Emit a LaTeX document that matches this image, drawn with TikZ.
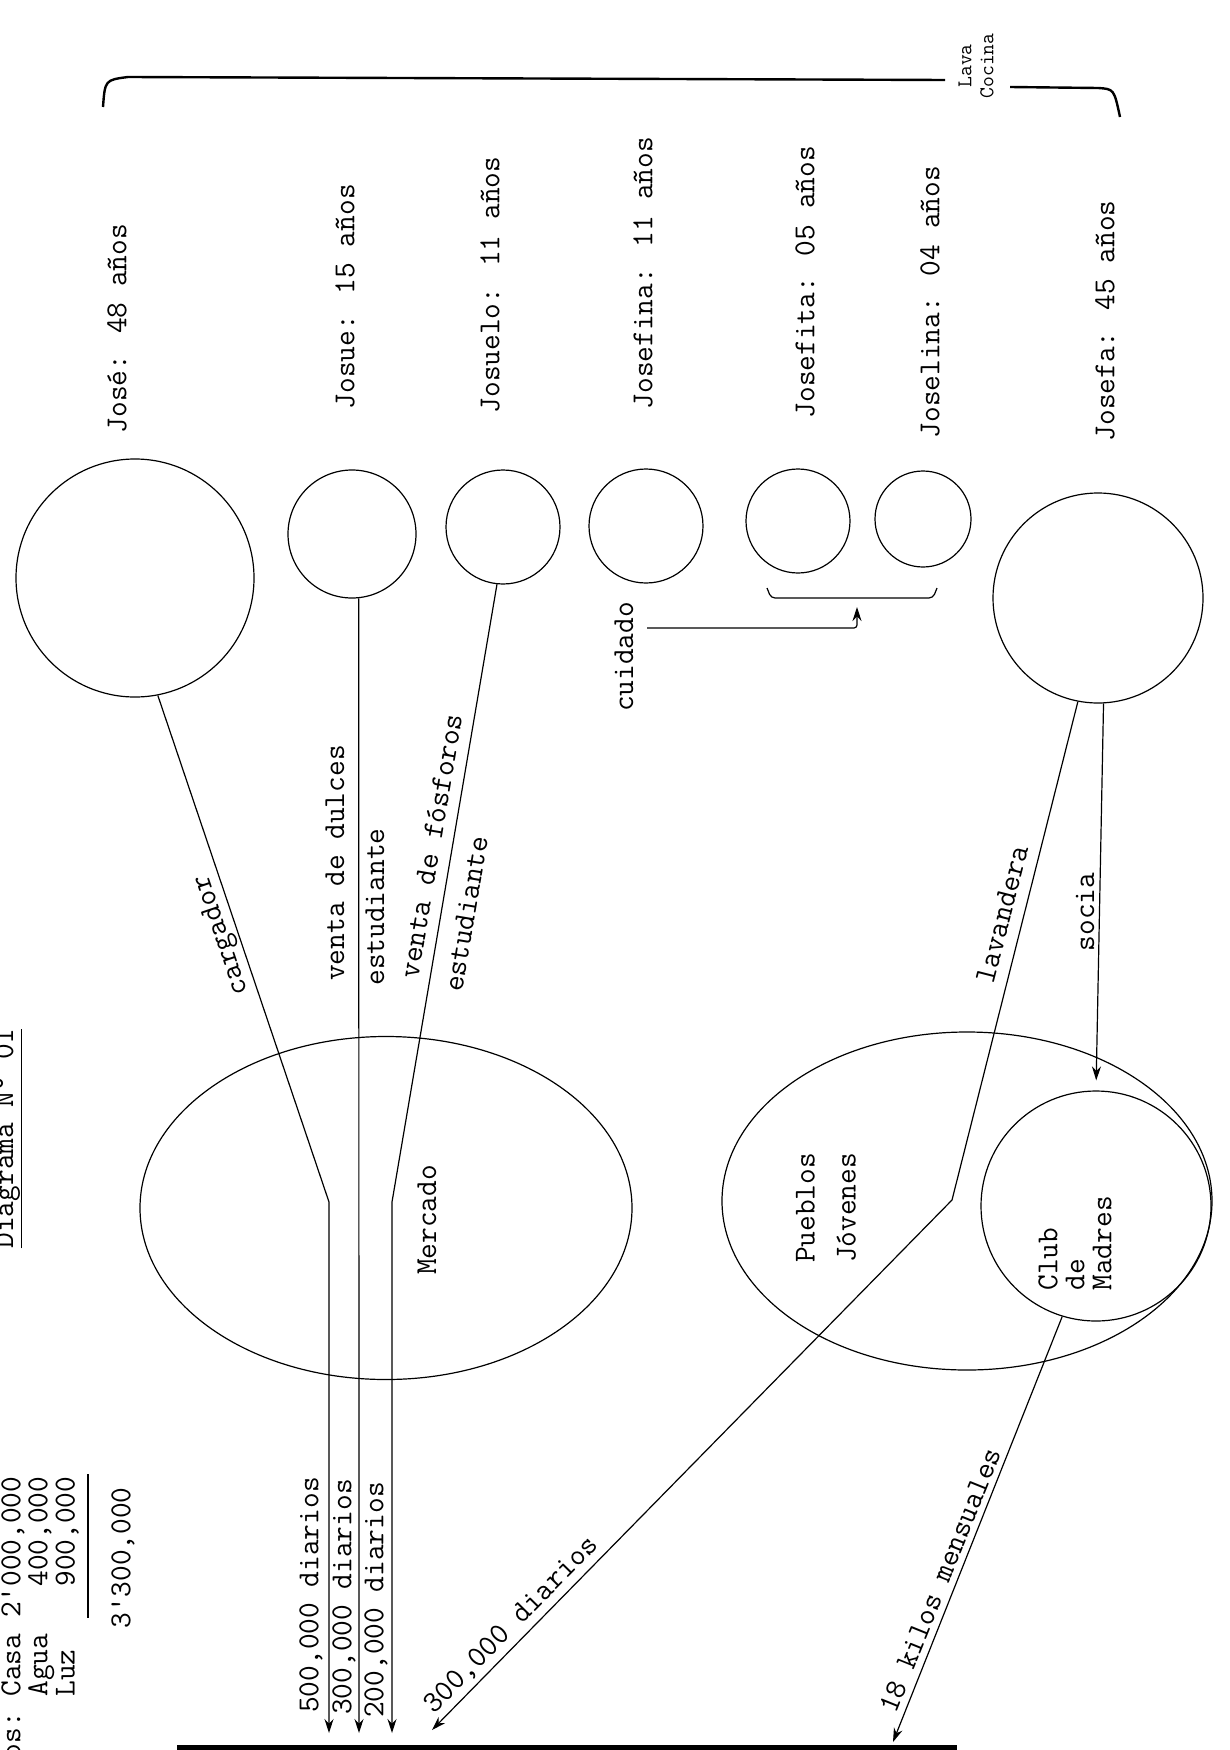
\documentclass[tikz,border=0pt]{standalone}
\usepackage{fontspec}
\usetikzlibrary{shapes.geometric,arrows.meta}
\begin{document}
\begin{tikzpicture}[x=1pt,y=-1pt,line width=1.2pt,
    every node/.style={font=\fontsize{30.5}{27}\ttfamily,inner sep=1pt},
    persona/.style={circle,draw,inner sep=0pt},
    lugar/.style={ellipse,draw,inner sep=0pt},
    nombre/.style={rotate=90,anchor=west},
    vert/.style={rotate=90},
    flujo/.style={-{Stealth[length=14pt,width=9pt]}}]
\useasboundingbox (0,0) rectangle (1229,1750);

% titulo y gastos
\node[rotate=90,anchor=base west,inner sep=0pt] (titulo) at (13,1249) {\underline{Diagrama N° 01}};
\node[rotate=90,anchor=east,inner sep=0pt] (gastos) at (42,1476)
  {\begin{tabular}{@{}r@{}}
   Gastos:~Casa~2\textquotesingle000,000\\
   Agua~~~400,000\\
   Luz~~~~900,000
   \end{tabular}};
\draw (88,1474) -- (88,1618);
\node[vert] (total) at (123,1558) {3\textquotesingle300,000};

% personas
\node[persona,minimum size=238] (jose) at (135,578) {};
\node[persona,minimum size=128] (josue) at (352,534) {};
\node[persona,minimum size=114] (josuelo) at (503,527) {};
\node[persona,minimum size=114] (josefina) at (646,526) {};
\node[persona,minimum size=104] (josefita) at (798,521) {};
\node[persona,minimum size=96] (joselina) at (923,519) {};
\node[persona,minimum size=210] (josefa) at (1098,598) {};

\node[nombre] (n-jose) at (117,435) {José: 48 años};
\node[nombre] (n-josue) at (345,411) {Josue: 15 años};
\node[nombre] (n-josuelo) at (490,415) {Josuelo: 11 años};
\node[nombre] (n-josefina) at (643,411) {Josefina: 11 años};
\node[nombre] (n-josefita) at (805,420) {Josefita: 05 años};
\node[nombre] (n-joselina) at (930,440) {Joselina: 04 años};
\node[nombre] (n-josefa) at (1105,443) {Josefa: 45 años};

% llave
\draw[line width=2.4pt] (103,107) .. controls (105,80) .. (128,77) -- (945,80);
\draw[line width=2.4pt] (1010,87) -- (1098,88) .. controls (1114,89) .. (1120,117);
\node[vert,align=center,font=\fontsize{21}{22}\ttfamily] (lava) at (976,66) {Lava\\Cocina};

% lugares
\node[lugar,minimum width=492,minimum height=343] (mercado) at (386,1208) {};
\node[vert] (t-mercado) at (427,1220) {Mercado};
\node[lugar,minimum width=490,minimum height=338] (pueblos) at (967,1201) {};
\node[persona,minimum size=230] (club) at (1096,1206) {};
\node[vert,align=left] (t-pueblos) at (826,1208) {Pueblos\\[14pt]Jóvenes};
\node[vert,align=left,anchor=west] (t-club) at (1075,1292) {Club\\de\\Madres};

% conexiones
\coordinate (k1) at (329,1202);
\coordinate (k2) at (392,1202);
\coordinate (k3) at (952,1200);
\coordinate (b1) at (329,1733);
\coordinate (b2) at (359,1733);
\coordinate (b3) at (392,1733);
\coordinate (b4) at (432,1730);
\coordinate (b5) at (893,1742);
\draw[flujo] (jose.-79) -- (k1) -- (b1);
\draw[flujo] (josue.-84) -- (b2);
\draw[flujo] (josuelo.-96) -- (k2) -- (b3);
\draw[flujo] (josefa.-101) -- (k3) -- (b4);
\draw[flujo,shorten >=10pt] (josefa.-87) -- (club.north);
\draw[flujo] (club.-107) -- (b5);

\node[rotate=108.6] (t-cargador) at (222,935) {cargador};
\node[vert] (t-dulces) at (335,863) {venta de dulces};
\node[vert] (t-est1) at (375,907) {estudiante};
\node[rotate=80.4] (t-fosforos) at (431,846) {venta de fósforos};
\node[rotate=80.4] (t-est2) at (466,914) {estudiante};
\node[rotate=75.7] (t-lavandera) at (1002,914) {lavandera};
\node[vert] (t-socia) at (1085,912) {socia};
\node[vert] (t-d1) at (311,1595) {500,000 diarios};
\node[vert] (t-d2) at (344,1597) {300,000 diarios};
\node[vert] (t-d3) at (376,1600) {200,000 diarios};
\node[rotate=45.5] (t-d4) at (512,1625) {300,000 diarios};
\node[rotate=68] (t-kilos) at (940,1580) {18 kilos mensuales};

% cuidado
\node[vert] (t-cuidado) at (624,657) {cuidado};
\coordinate (c1) at (647,628);
\coordinate (c2) at (857,607);
\draw[flujo,rounded corners=3pt] (c1) -| (c2);
\draw[rounded corners=4pt] (767,588) -- (771,598) -- (933,598) -- (937,588);

% borde
\draw[line width=6pt] (177,1748) -- (957,1748);
\end{tikzpicture}
\end{document}
